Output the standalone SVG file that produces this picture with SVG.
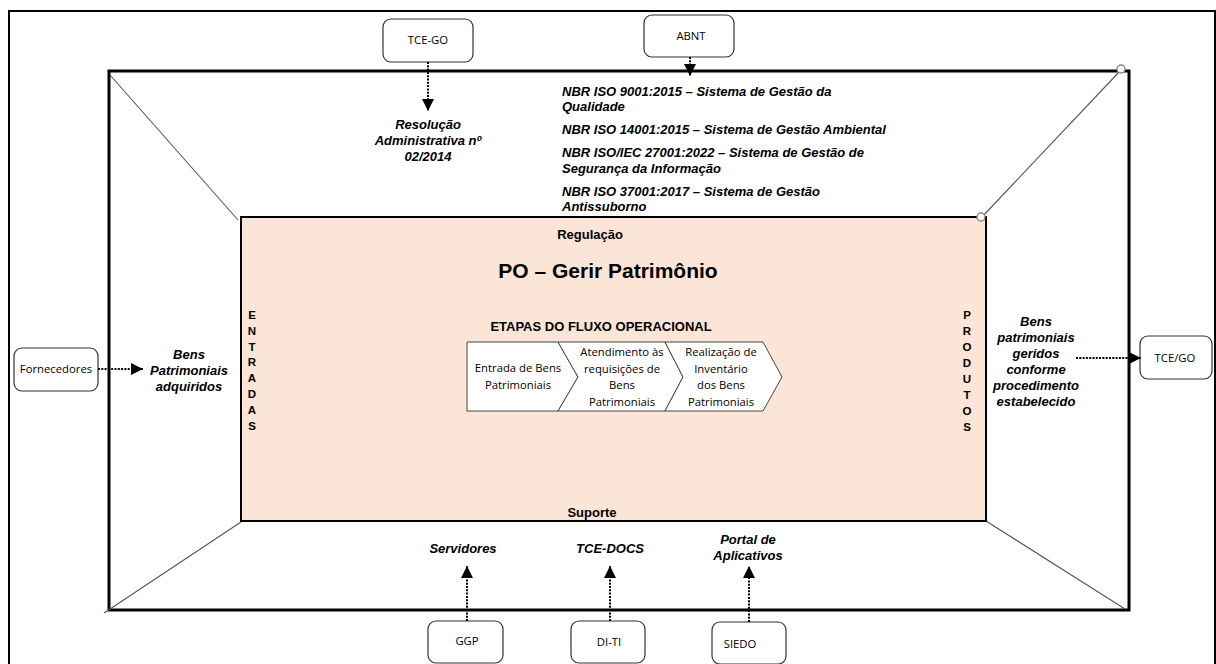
<svg xmlns="http://www.w3.org/2000/svg" width="1216" height="664" viewBox="0 0 1216 664">
<style>
.bi{font-family:"Liberation Sans",Arial,sans-serif;font-weight:bold;font-style:italic;font-size:13px;fill:#000}
.b{font-family:"Liberation Sans",Arial,sans-serif;font-weight:bold;fill:#000}
.n{font-family:"Open Sans","Noto Sans",sans-serif;font-size:11.3px;fill:#000}
.box{fill:#fff;stroke:#333;stroke-width:1.2}
.diag{stroke:#555;stroke-width:1.1;fill:none}
.dot{stroke:#000;stroke-width:2;stroke-dasharray:2 1.3;fill:none}
.chev{fill:#fff;stroke:#444;stroke-width:1}
.c{text-anchor:middle}
.pt{fill:#fff;stroke:#888;stroke-width:1.5}
</style>
<defs>
<marker id="ah" viewBox="0 0 10 10" refX="10" refY="5" markerWidth="12" markerHeight="12" markerUnits="userSpaceOnUse" orient="auto">
<path d="M0,0 L10,5 L0,10 Z" fill="#000"/>
</marker>
</defs>
<rect width="1216" height="664" fill="#fff"/>
<g id="frame">
<rect x="9" y="11" width="1206" height="662" fill="none" stroke="#000" stroke-width="2"/>
<rect x="109" y="71" width="1020" height="539" fill="none" stroke="#000" stroke-width="3"/>
<line class="diag" x1="110" y1="75" x2="238" y2="220"/>
<line class="diag" x1="1121" y1="70" x2="981" y2="218"/>
<line class="diag" x1="104" y1="613" x2="241" y2="522"/>
<line class="diag" x1="986" y1="521" x2="1125" y2="609"/>
</g>
<g id="process">
<rect x="241" y="217" width="745" height="304" fill="#FBE5D6" stroke="#000" stroke-width="2"/>
<text class="b c" x="590" y="239" font-size="13">Regulação</text>
<text class="b c" x="608" y="278" font-size="21">PO – Gerir Patrimônio</text>
<text class="b c" x="601" y="331" font-size="13">ETAPAS DO FLUXO OPERACIONAL</text>
<text class="b c" x="592" y="517" font-size="13">Suporte</text>
<text class="b c" font-size="11.5">
<tspan x="252" y="319">E</tspan><tspan x="252" y="335">N</tspan><tspan x="252" y="351">T</tspan><tspan x="252" y="366">R</tspan><tspan x="252" y="382">A</tspan><tspan x="252" y="398">D</tspan><tspan x="252" y="414">A</tspan><tspan x="252" y="430">S</tspan>
</text>
<text class="b c" font-size="11.5">
<tspan x="967" y="319">P</tspan><tspan x="967" y="335">R</tspan><tspan x="967" y="351">O</tspan><tspan x="967" y="367">D</tspan><tspan x="967" y="383">U</tspan><tspan x="967" y="399">T</tspan><tspan x="967" y="415">O</tspan><tspan x="967" y="431">S</tspan>
</text>
</g>
<g id="handles">
<circle class="pt" cx="1121" cy="69" r="4"/>
<circle class="pt" cx="981" cy="217" r="4"/>
</g>
<g id="step1">
<path class="chev" d="M467,342 L558,342 L578,377 L558,411 L467,411 Z"/>
<text class="n c"><tspan x="518" y="372">Entrada de Bens</tspan><tspan x="518" y="389">Patrimoniais</tspan></text>
</g>
<g id="step2">
<path class="chev" d="M558,342 L665,342 L683,377 L665,411 L558,411 L578,377 Z"/>
<text class="n c"><tspan x="622" y="356">Atendimento às</tspan><tspan x="622" y="373">requisições de</tspan><tspan x="622" y="389">Bens</tspan><tspan x="622" y="406">Patrimoniais</tspan></text>
</g>
<g id="step3">
<path class="chev" d="M665,342 L763,342 L782,377 L763,411 L665,411 L683,377 Z"/>
<text class="n c"><tspan x="721" y="356">Realização de</tspan><tspan x="721" y="373">Inventário</tspan><tspan x="721" y="389">dos Bens</tspan><tspan x="721" y="406">Patrimoniais</tspan></text>
</g>
<g id="tce-go">
<rect class="box" x="383" y="19" width="90" height="43" rx="8"/>
<text class="n c" x="428" y="44">TCE-GO</text>
</g>
<g id="abnt">
<rect class="box" x="644" y="15" width="90" height="42" rx="8"/>
<text class="n c" x="691" y="40" font-size="10.5">ABNT</text>
</g>
<g id="fornecedores">
<rect class="box" x="14" y="348" width="84" height="43" rx="8"/>
<text class="n c" x="56" y="373">Fornecedores</text>
</g>
<g id="tce-go-out">
<rect class="box" x="1140" y="336" width="72" height="43" rx="8"/>
<text class="n c" x="1175" y="362">TCE/GO</text>
</g>
<g id="ggp">
<rect class="box" x="428" y="621" width="75" height="42" rx="8"/>
<text class="n c" x="467" y="645" font-size="10.5">GGP</text>
</g>
<g id="di-ti">
<rect class="box" x="571" y="621" width="74" height="42" rx="8"/>
<text class="n c" x="609" y="646" font-size="10.5">DI-TI</text>
</g>
<g id="siedo">
<rect class="box" x="712" y="622" width="74" height="42" rx="8"/>
<text class="n c" x="740" y="648" font-size="10.5">SIEDO</text>
</g>
<g id="labels">
<text class="bi c"><tspan x="428" y="129">Resolução</tspan><tspan x="428" y="145">Administrativa nº</tspan><tspan x="428" y="161">02/2014</tspan></text>
<text class="bi" x="562"><tspan x="562" y="96">NBR ISO 9001:2015 – Sistema de Gestão da</tspan><tspan x="562" y="111">Qualidade</tspan><tspan x="562" y="134">NBR ISO 14001:2015 – Sistema de Gestão Ambiental</tspan><tspan x="562" y="157">NBR ISO/IEC 27001:2022 – Sistema de Gestão de</tspan><tspan x="562" y="173">Segurança da Informação</tspan><tspan x="562" y="196">NBR ISO 37001:2017 – Sistema de Gestão</tspan><tspan x="562" y="211">Antissuborno</tspan></text>
<text class="bi c"><tspan x="189" y="359">Bens</tspan><tspan x="189" y="375">Patrimoniais</tspan><tspan x="189" y="391">adquiridos</tspan></text>
<text class="bi c"><tspan x="1036" y="326">Bens</tspan><tspan x="1036" y="342">patrimoniais</tspan><tspan x="1036" y="358">geridos</tspan><tspan x="1036" y="374">conforme</tspan><tspan x="1036" y="390">procedimento</tspan><tspan x="1036" y="406">estabelecido</tspan></text>
<text class="bi c" x="463" y="553">Servidores</text>
<text class="bi c" x="610" y="553">TCE-DOCS</text>
<text class="bi c"><tspan x="748" y="544">Portal de</tspan><tspan x="748" y="560">Aplicativos</tspan></text>
</g>
<g id="connectors">
<line class="dot" x1="428" y1="62" x2="428" y2="111" marker-end="url(#ah)"/>
<line class="dot" x1="690" y1="57" x2="690" y2="76" marker-end="url(#ah)"/>
<line class="dot" x1="98" y1="369" x2="143" y2="369" marker-end="url(#ah)"/>
<line class="dot" x1="1076" y1="358" x2="1141" y2="358" marker-end="url(#ah)"/>
<line class="dot" x1="467" y1="621" x2="467" y2="566" marker-end="url(#ah)"/>
<line class="dot" x1="610" y1="621" x2="610" y2="566" marker-end="url(#ah)"/>
<line class="dot" x1="749" y1="622" x2="749" y2="566" marker-end="url(#ah)"/>
</g>
</svg>
